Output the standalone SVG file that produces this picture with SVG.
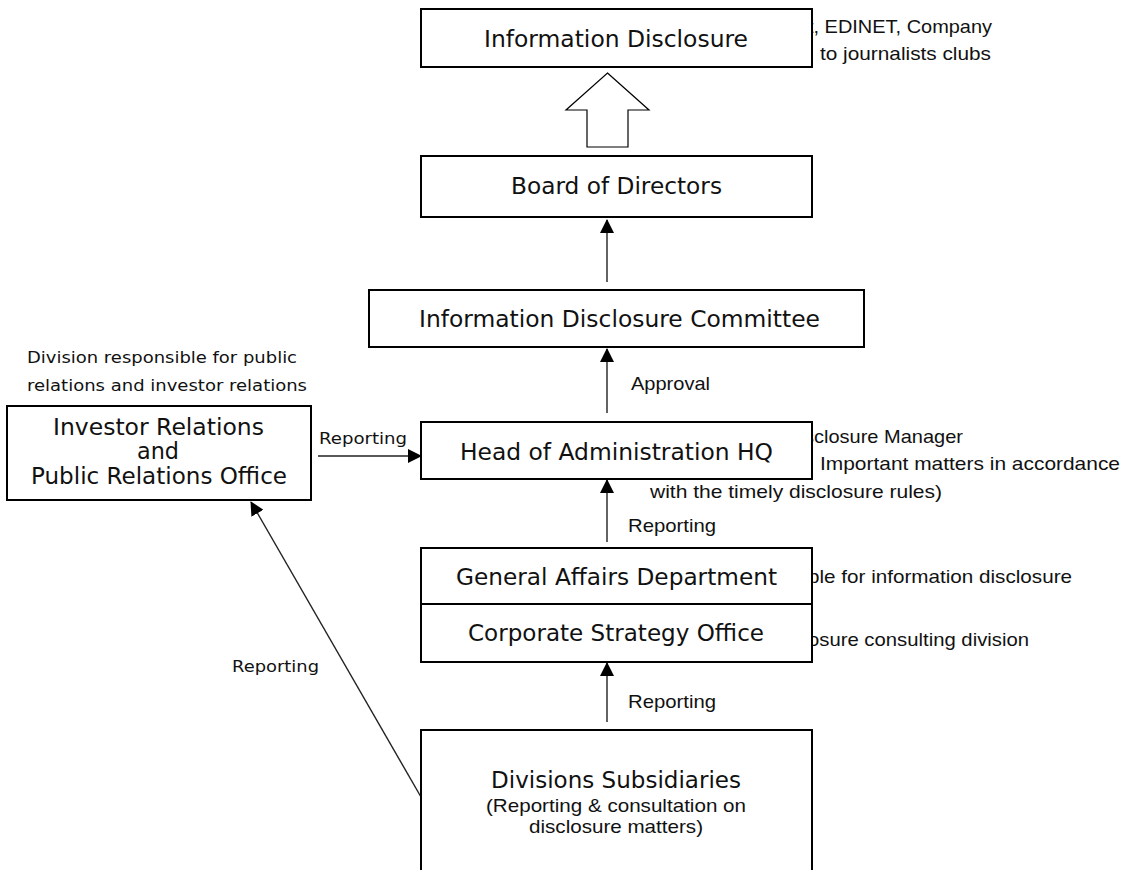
<svg xmlns="http://www.w3.org/2000/svg" width="1123" height="870" viewBox="0 0 1123 870">
<style>
.box{fill:#fff;stroke:#000;stroke-width:2}
.t{font-family:"DejaVu Sans","Noto Sans",sans-serif;font-size:23px;fill:#111}
.l{font-family:"DejaVu Sans","Noto Sans",sans-serif;font-size:23px;fill:#111}
.s{font-family:"DejaVu Sans","Noto Sans",sans-serif;font-size:16px;fill:#111}
.n{font-family:"Liberation Sans","Noto Sans",sans-serif;font-size:19px;fill:#111}
.c{stroke:#222;stroke-width:1.4;fill:none}
</style>
<defs>
<marker id="ah" markerWidth="14" markerHeight="14" viewBox="0 0 14 14" refX="13" refY="7" orient="auto" markerUnits="userSpaceOnUse">
<path d="M0,0 L14,7 L0,14 Z" fill="#000"/>
</marker>
</defs>
<rect width="1123" height="870" fill="#fff"/>
<g id="annotations">
<text class="n" x="808" y="33" textLength="184" lengthAdjust="spacingAndGlyphs">t, EDINET, Company</text>
<text class="n" x="820" y="60" textLength="171" lengthAdjust="spacingAndGlyphs">to journalists clubs</text>
<text class="s" x="27" y="363" textLength="270" lengthAdjust="spacingAndGlyphs">Division responsible for public</text>
<text class="s" x="27" y="391" textLength="280" lengthAdjust="spacingAndGlyphs">relations and investor relations</text>
<text class="n" x="804" y="443" textLength="159" lengthAdjust="spacingAndGlyphs">sclosure Manager</text>
<text class="n" x="820" y="470" textLength="300" lengthAdjust="spacingAndGlyphs">Important matters in accordance</text>
<text class="n" x="650" y="498" textLength="292" lengthAdjust="spacingAndGlyphs">with the timely disclosure rules)</text>
<text class="n" x="808" y="583" textLength="264" lengthAdjust="spacingAndGlyphs">ble for information disclosure</text>
<text class="n" x="808" y="646" textLength="221" lengthAdjust="spacingAndGlyphs">osure consulting division</text>
</g>
<g id="connectors">
<polygon points="607.5,73 649,110 628,110 628,147 587,147 587,110 566,110" fill="#fff" stroke="#000" stroke-width="1.2"/>
<line class="c" x1="607" y1="282" x2="607" y2="220" marker-end="url(#ah)"/>
<line class="c" x1="607" y1="413" x2="607" y2="349" marker-end="url(#ah)"/>
<text class="n" x="631" y="390" textLength="79" lengthAdjust="spacingAndGlyphs">Approval</text>
<line class="c" x1="607" y1="542" x2="607" y2="480" marker-end="url(#ah)"/>
<text class="n" x="628" y="532" textLength="88" lengthAdjust="spacingAndGlyphs">Reporting</text>
<line class="c" x1="607" y1="722" x2="607" y2="663" marker-end="url(#ah)"/>
<text class="n" x="628" y="708" textLength="88" lengthAdjust="spacingAndGlyphs">Reporting</text>
<line class="c" x1="318" y1="456" x2="421" y2="456" marker-end="url(#ah)"/>
<text class="s" x="319" y="444" textLength="88" lengthAdjust="spacingAndGlyphs">Reporting</text>
<line class="c" x1="421" y1="797" x2="251" y2="502" marker-end="url(#ah)"/>
<text class="s" x="232" y="672" textLength="87" lengthAdjust="spacingAndGlyphs">Reporting</text>
</g>
<g id="info-disclosure">
<rect class="box" x="421" y="9" width="391" height="58"/>
<text class="l" x="484" y="47" textLength="264" lengthAdjust="spacingAndGlyphs">Information Disclosure</text>
</g>
<g id="board">
<rect class="box" x="421" y="156" width="391" height="61"/>
<text class="l" x="511" y="194" textLength="211" lengthAdjust="spacingAndGlyphs">Board of Directors</text>
</g>
<g id="committee">
<rect class="box" x="369" y="290" width="495" height="57"/>
<text class="l" x="419" y="327" textLength="401" lengthAdjust="spacingAndGlyphs">Information Disclosure Committee</text>
</g>
<g id="ir-pr">
<rect class="box" x="7" y="406" width="304" height="94"/>
<text class="t" x="53" y="435" textLength="211" lengthAdjust="spacingAndGlyphs">Investor Relations</text>
<text class="t" x="137" y="459" textLength="42" lengthAdjust="spacingAndGlyphs">and</text>
<text class="t" x="31" y="484" textLength="256" lengthAdjust="spacingAndGlyphs">Public Relations Office</text>
</g>
<g id="head-admin">
<rect class="box" x="421" y="422" width="391" height="57"/>
<text class="l" x="460" y="460" textLength="313" lengthAdjust="spacingAndGlyphs">Head of Administration HQ</text>
</g>
<g id="general-affairs">
<rect class="box" x="421" y="548" width="391" height="56"/>
<text class="l" x="456" y="585" textLength="321" lengthAdjust="spacingAndGlyphs">General Affairs Department</text>
</g>
<g id="corporate-strategy">
<rect class="box" x="421" y="604" width="391" height="58"/>
<text class="l" x="468" y="641" textLength="296" lengthAdjust="spacingAndGlyphs">Corporate Strategy Office</text>
</g>
<g id="divisions">
<rect class="box" x="421" y="730" width="391" height="160"/>
<text class="l" x="491" y="788" textLength="250" lengthAdjust="spacingAndGlyphs">Divisions Subsidiaries</text>
<text class="n" x="486" y="812" textLength="260" lengthAdjust="spacingAndGlyphs">(Reporting &amp; consultation on</text>
<text class="n" x="529" y="833" textLength="174" lengthAdjust="spacingAndGlyphs">disclosure matters)</text>
</g>
</svg>
